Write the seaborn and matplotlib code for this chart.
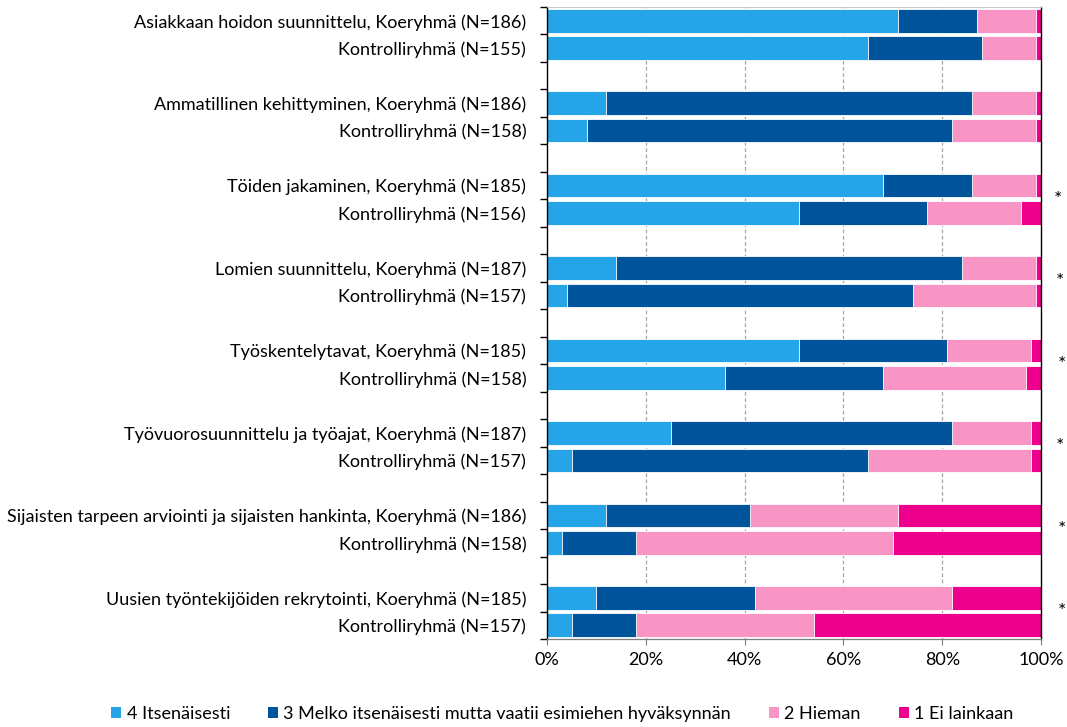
import matplotlib
matplotlib.use("Agg")
import matplotlib.pyplot as plt
from matplotlib.patches import Patch
from matplotlib.ticker import FixedLocator
import numpy as np
import pandas as pd
import seaborn as sns

# Survey topics, each answered by a test group (Koeryhmä) and a control group
groups = [
    "Asiakkaan hoidon suunnittelu",
    "Ammatillinen kehittyminen",
    "Töiden jakaminen",
    "Lomien suunnittelu",
    "Työskentelytavat",
    "Työvuorosuunnittelu ja työajat",
    "Sijaisten tarpeen arviointi ja sijaisten hankinta",
    "Uusien työntekijöiden rekrytointi",
]
koe_n = [186, 186, 185, 187, 185, 187, 186, 185]
kontrolli_n = [155, 158, 156, 157, 158, 157, 158, 157]
significant = [False, False, True, True, True, True, True, True]

# Shares (%) per row, Koeryhmä then Kontrolliryhmä for each topic
itsenaisesti = [71, 65, 12, 8, 68, 51, 14, 4, 51, 36, 25, 5, 12, 3, 10, 5]
melko = [16, 23, 74, 74, 18, 26, 70, 70, 30, 32, 57, 60, 29, 15, 32, 13]
hieman = [12, 11, 13, 17, 13, 19, 15, 25, 17, 29, 16, 33, 30, 52, 40, 36]
ei_lainkaan = [1, 1, 1, 1, 1, 4, 1, 1, 2, 3, 2, 2, 29, 30, 18, 46]

series_names = [
    "4 Itsenäisesti",
    "3 Melko itsenäisesti mutta vaatii esimiehen hyväksynnän",
    "2 Hieman",
    "1 Ei lainkaan",
]
colors = ["#25A4E8", "#00549C", "#F895C4", "#EC008C"]
x_ticks = [0, 20, 40, 60, 80, 100]
x_tick_labels = ["0%", "20%", "40%", "60%", "80%", "100%"]

# Unique row keys (labels repeat), with an empty spacer row between topics
row_keys, row_text = [], []
order, order_text = [], []
for i, g in enumerate(groups):
    koe = f"{g}, Koeryhmä (N={koe_n[i]})"
    kon = f"Kontrolliryhmä (N={kontrolli_n[i]})"
    for j, txt in enumerate([koe, kon]):
        key = f"r{i}_{j}"
        row_keys.append(key)
        row_text.append(txt)
        order.append(key)
        order_text.append(txt)
    if i < len(groups) - 1:
        order.append(f"gap{i}")
        order_text.append("")

df = pd.DataFrame({
    "rivi": row_keys,
    series_names[0]: itsenaisesti,
    series_names[1]: melko,
    series_names[2]: hieman,
    series_names[3]: ei_lainkaan,
})
# cumulative right edges of the stacked segments
cum = df[series_names].cumsum(axis=1)
plot_df = pd.concat([df[["rivi"]], cum], axis=1)

plt.rcParams["font.family"] = ["Lato", "DejaVu Sans"]
fig = plt.figure(figsize=(10.67, 7.27), dpi=100)
ax = fig.add_axes([0.5127, 0.121, 0.4630, 0.8694])

for k in range(len(series_names) - 1, -1, -1):
    sns.barplot(data=plot_df, x=series_names[k], y="rivi", order=order,
                color=colors[k], width=0.86, edgecolor="white",
                linewidth=0.6, orient="h", ax=ax, saturation=1,
                errorbar=None)

ax.set_xlim(0, 100)
ax.set_ylim(len(order) - 0.5, -0.5)
ax.set_xlabel("")
ax.set_ylabel("")

ax.set_xticks(x_ticks)
ax.set_xticklabels(x_tick_labels, fontsize=13, color="#000000")
ax.tick_params(axis="x", length=4, width=0.8, color="#7F7F7F", pad=5)

ax.set_yticks(range(len(order)))
ax.set_yticklabels(order_text, fontsize=13)
ax.tick_params(axis="y", which="major", length=0, pad=15)
ax.yaxis.set_minor_locator(FixedLocator(np.arange(-0.5, len(order), 1.0)))
ax.tick_params(axis="y", which="minor", length=5, width=1.0, color="#000000")

for v in x_ticks[1:-1]:
    ax.axvline(v, color="#A6A6A6", linestyle=(0, (3, 2)), linewidth=0.9, zorder=0)
ax.set_axisbelow(True)

ax.spines["left"].set_color("#000000")
ax.spines["left"].set_linewidth(1.0)
ax.spines["right"].set_color("#000000")
ax.spines["right"].set_linewidth(1.0)
ax.spines["top"].set_color("#BFBFBF")
ax.spines["top"].set_linewidth(0.6)
ax.spines["bottom"].set_color("#7F7F7F")
ax.spines["bottom"].set_linewidth(0.9)

# significance markers between each topic's two rows
star_x = [103.4, 103.8, 104.2, 103.8, 104.2, 104.2]
si = 0
for i, sig in enumerate(significant):
    if sig:
        ax.text(star_x[si], 3 * i + 0.5, "*", fontsize=14, ha="center",
                va="center", clip_on=False)
        si += 1

handles = [Patch(facecolor=c, edgecolor="none") for c in colors]
fig.legend(handles, series_names, loc="center", bbox_to_anchor=(0.527, 0.018),
           ncol=4, frameon=False, fontsize=13, handlelength=0.55,
           handleheight=0.55, handletextpad=0.3, columnspacing=2.1,
           borderpad=0)

fig.savefig("out.png", dpi=100)
